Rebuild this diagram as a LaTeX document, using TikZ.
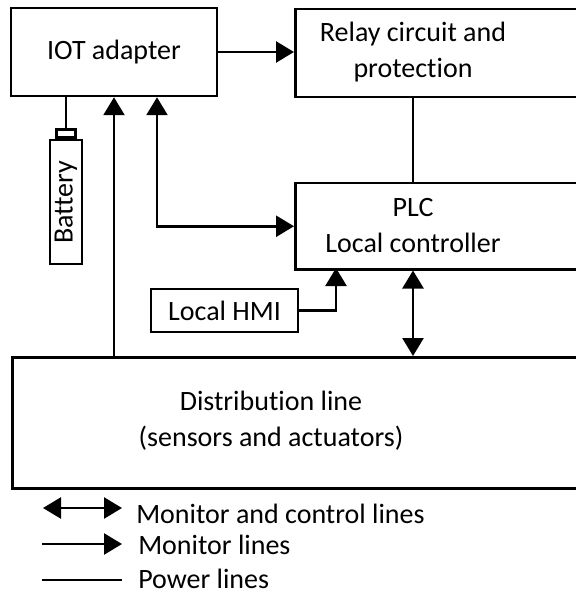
\documentclass[tikz,border=0pt]{standalone}
\usepackage{fontspec}
\setmainfont{Carlito}[Ligatures=NoCommon]
\usetikzlibrary{arrows.meta,positioning}
\tikzset{
  blk/.style={draw, line width=1.25pt, inner sep=0pt, align=center},
  txt/.style={inner sep=0pt, align=center},
  mon/.style={-{Triangle[length=9pt,width=10.5pt]}},
  ctl/.style={{Triangle[length=9pt,width=10.5pt]}-{Triangle[length=9pt,width=10.5pt]}},
}
\begin{document}
\begin{tikzpicture}[x=0.5pt,y=-0.5pt,line width=1.25pt,font=\fontsize{14}{18}\selectfont]
\useasboundingbox (0,0) rectangle (576,593);
\clip (0,0) rectangle (576,593);
% blocks
\node[blk,minimum width=103pt,minimum height=44pt] (iot) at (114,52) {IOT adapter};
\node[blk,anchor=north west,minimum width=160pt,minimum height=44pt] (relay) at (294,8) {};
\node[txt] (relaytxt) at (413,52) {Relay circuit and\\protection};
\node[blk,anchor=north west,minimum width=160pt,minimum height=43pt] (plc) at (294,182) {};
\node[txt] (plctxt) at (413,226) {PLC\\Local controller};
\node[blk,minimum width=73.5pt,minimum height=21.5pt] (hmi) at (224.5,310.5) {Local HMI};
\node[blk,anchor=north west,minimum width=320pt,minimum height=65.5pt] (dist) at (11,356) {};
\node[txt] (disttxt) at (271,421) {Distribution line\\(sensors and actuators)};
% battery
\node[blk,minimum width=16pt,minimum height=62pt] (bat) at (66,202) {\rotatebox{90}{Battery}};
\node[blk,anchor=south,minimum width=9.5pt,minimum height=4pt] (cap) at (bat.north) {};
% connectors
\coordinate (hmiup) at (336,268);
\draw[mon] (iot.east) -- (iot.east -| relay.west);
\draw (iot.south -| bat) -- (cap.north);
\draw[mon] (dist.north -| iot) -- (iot.south);
\draw[ctl] ([xshift=21.5pt]iot.south) |- (plc.west);
\draw (relaytxt |- relay.south) -- (relaytxt |- plc.north);
\draw[mon] (hmi.east) -| (hmiup);
\draw[ctl] (plctxt |- plc.south) -- (plctxt |- dist.north);
% legend
\coordinate (l1a) at (43,508); \coordinate (l1b) at (122,508);
\coordinate (l2a) at (42,544); \coordinate (l2b) at (122,544);
\coordinate (l3a) at (42,580); \coordinate (l3b) at (122,580);
\draw[ctl] (l1a) -- (l1b);
\draw[mon] (l2a) -- (l2b);
\draw (l3a) -- (l3b);
\node[txt,anchor=base west] (l1) at (135,523) {Monitor and control lines};
\node[txt,anchor=base west] (l2) at (137,554) {Monitor lines};
\node[txt,anchor=base west] (l3) at (137,588) {Power lines};
\end{tikzpicture}
\end{document}
